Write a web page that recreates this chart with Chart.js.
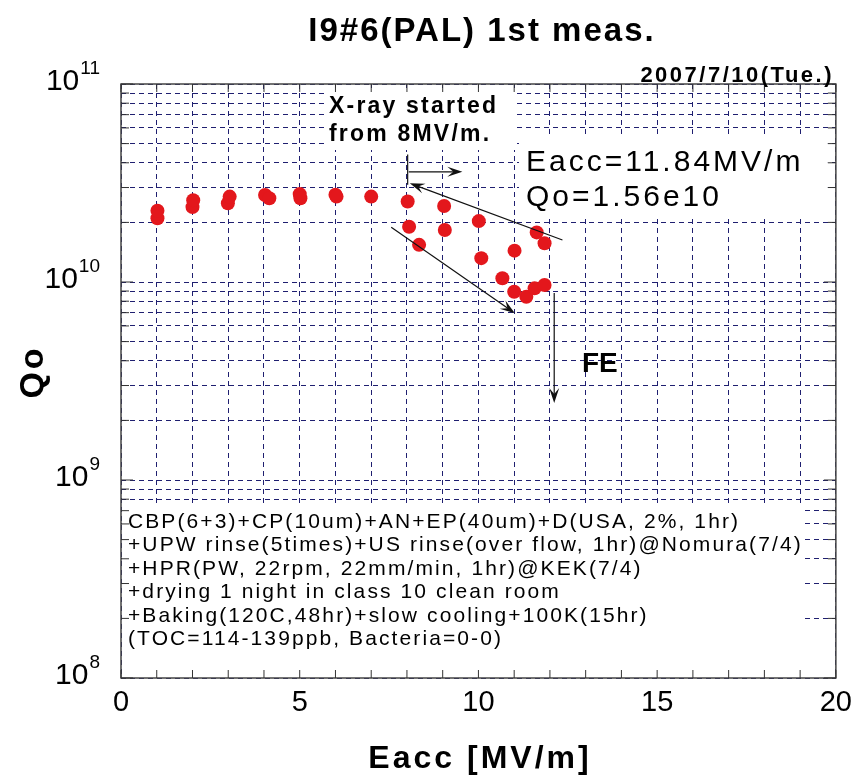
<!DOCTYPE html>
<html>
<head>
<meta charset="utf-8">
<script src="https://cdn.jsdelivr.net/npm/chart.js@4.4.0/dist/chart.umd.min.js"></script>
<style>
html, body { margin: 0; padding: 0; background: #fff; }
#wrap { width: 860px; height: 781px; }
</style>
</head>
<body>
<div id="wrap"><canvas id="qoChart" width="860" height="781"></canvas></div>
<script>
// measured points, Eacc [MV/m] and Qo
var eaccData = [1.02, 1.02, 2.0, 2.02, 2.99, 3.04, 4.03, 4.15, 5.0, 5.02, 6.0, 6.03, 7.0,
                8.02, 9.04, 10.01, 11.63, 11.85, 11.01, 10.08, 9.06, 8.06, 8.34,
                10.67, 11.0, 11.34, 11.57, 11.85];
var qoData = [2.10e10, 2.29e10, 2.39e10, 2.59e10, 2.50e10, 2.70e10, 2.75e10, 2.65e10, 2.78e10, 2.65e10, 2.76e10, 2.70e10, 2.70e10,
              2.55e10, 2.42e10, 2.03e10, 1.78e10, 1.57e10, 1.44e10, 1.32e10, 1.83e10, 1.90e10, 1.54e10,
              1.045e10, 8.93e9, 8.43e9, 9.29e9, 9.66e9];

var xLabelEvery = 5;
var yDecades = [1e8, 1e9, 1e10];
var yMajorTicks = [1e8, 1e9, 1e10, 1e11];
var yTickExp = ['8', '9', '10', '11'];

var recipeLines = [
    'CBP(6+3)+CP(10um)+AN+EP(40um)+D(USA, 2%, 1hr)',
    '+UPW rinse(5times)+US rinse(over flow, 1hr)@Nomura(7/4)',
    '+HPR(PW, 22rpm, 22mm/min, 1hr)@KEK(7/4)',
    '+drying 1 night in class 10 clean room',
    '+Baking(120C,48hr)+slow cooling+100K(15hr)',
    '(TOC=114-139ppb, Bacteria=0-0)'
];

// arrows in data space: [x1, y1, x2, y2], head at the second point
var arrowList = [
    [8.05, 3.6e10, 9.55, 3.6e10],
    [12.35, 1.63e10, 8.08, 3.15e10],
    [7.56, 1.89e10, 11.02, 6.95e9],
    [12.12, 8.8e9, 12.12, 2.45e9]
];
var markLine = [8.02, 4.4e10, 8.02, 3.1e10];

var points = eaccData.map(function (x, i) { return { x: x, y: qoData[i] }; });

var FONT = '"Liberation Sans", Arial, sans-serif';
var GRID = '#1f1f70';

function txt(ctx, s, x, y, font, align, spacing) {
    ctx.font = font;
    ctx.letterSpacing = (spacing || 0) + 'px';
    ctx.textAlign = align || 'left';
    ctx.textBaseline = 'alphabetic';
    ctx.fillStyle = '#000';
    ctx.fillText(s, x, y);
    ctx.letterSpacing = '0px';
}

function arrow(ctx, x1, y1, x2, y2) {
    var a = Math.atan2(y2 - y1, x2 - x1);
    var len = 15, w = 5;
    ctx.beginPath();
    ctx.moveTo(x1, y1);
    ctx.lineTo(x2 - Math.cos(a) * 6, y2 - Math.sin(a) * 6);
    ctx.stroke();
    ctx.beginPath();
    ctx.moveTo(x2, y2);
    ctx.lineTo(x2 - len * Math.cos(a) + w * Math.sin(a), y2 - len * Math.sin(a) - w * Math.cos(a));
    ctx.lineTo(x2 - 0.6 * len * Math.cos(a), y2 - 0.6 * len * Math.sin(a));
    ctx.lineTo(x2 - len * Math.cos(a) - w * Math.sin(a), y2 - len * Math.sin(a) + w * Math.cos(a));
    ctx.closePath();
    ctx.fill();
}

var decor = {
    id: 'decor',
    beforeDatasetsDraw: function (chart) {
        var ctx = chart.ctx, a = chart.chartArea;
        ctx.save();
        ctx.fillStyle = '#fff';
        ctx.fillRect(327, 88, 188, 62);      // X-ray note
        ctx.fillRect(519, 135, a.right - 8 - 519, 84);   // Eacc / Qo note
        ctx.fillRect(a.left + 1, 504, 803 - a.left, a.bottom - 505);  // recipe box
        ctx.restore();
    },
    afterDatasetsDraw: function (chart) {
        var ctx = chart.ctx, a = chart.chartArea;
        var xs = chart.scales.x, ys = chart.scales.y;
        ctx.save();

        // frame
        ctx.strokeStyle = '#444';
        ctx.lineWidth = 1.5;
        ctx.strokeRect(a.left, a.top, a.right - a.left, a.bottom - a.top);

        // inward ticks
        ctx.lineWidth = 1;
        ctx.strokeStyle = '#333';
        ctx.beginPath();
        xs.ticks.forEach(function (t) {
            var px = xs.getPixelForValue(t.value);
            ctx.moveTo(px, a.bottom); ctx.lineTo(px, a.bottom - 8);
            ctx.moveTo(px, a.top); ctx.lineTo(px, a.top + 8);
        });
        ys.ticks.forEach(function (t) {
            var py = ys.getPixelForValue(t.value);
            var l = yMajorTicks.indexOf(t.value) >= 0 ? 12 : 8;
            ctx.moveTo(a.left, py); ctx.lineTo(a.left + l, py);
            ctx.moveTo(a.right, py); ctx.lineTo(a.right - l, py);
        });
        ctx.stroke();

        // y tick labels 10^n
        yMajorTicks.forEach(function (v, i) {
            var py = ys.getPixelForValue(v);
            txt(ctx, yTickExp[i], 100, py - 10, '19px ' + FONT, 'right', 0);
            ctx.font = '19px ' + FONT;
            var w = ctx.measureText(yTickExp[i]).width;
            txt(ctx, '10', 100 - w - 1, py + 6, '30px ' + FONT, 'right', 0);
        });

        // arrows
        ctx.strokeStyle = '#111';
        ctx.fillStyle = '#111';
        ctx.lineWidth = 1.2;
        ctx.beginPath();
        ctx.moveTo(xs.getPixelForValue(markLine[0]), ys.getPixelForValue(markLine[1]));
        ctx.lineTo(xs.getPixelForValue(markLine[2]), ys.getPixelForValue(markLine[3]));
        ctx.stroke();
        arrowList.forEach(function (r) {
            arrow(ctx, xs.getPixelForValue(r[0]), ys.getPixelForValue(r[1]),
                  xs.getPixelForValue(r[2]), ys.getPixelForValue(r[3]));
        });

        // notes
        txt(ctx, 'X-ray started', 329, 113, 'bold 23px ' + FONT, 'left', 2.2);
        txt(ctx, 'from 8MV/m.', 329, 141, 'bold 23px ' + FONT, 'left', 2.2);
        txt(ctx, 'Eacc=11.84MV/m', 526, 171, '30px ' + FONT, 'left', 3);
        txt(ctx, 'Qo=1.56e10', 526, 206, '30px ' + FONT, 'left', 3);
        txt(ctx, 'FE', 582, 372, 'bold 28px ' + FONT, 'left', 0);

        recipeLines.forEach(function (s, i) {
            txt(ctx, s, 128, 528 + i * 23.4, '21px ' + FONT, 'left', 2.1);
        });

        // titles
        txt(ctx, 'I9#6(PAL) 1st meas.', 482, 41, 'bold 33px ' + FONT, 'center', 2);
        txt(ctx, '2007/7/10(Tue.)', 834, 82, 'bold 22px ' + FONT, 'right', 2.5);
        txt(ctx, 'Eacc [MV/m]', 480, 768, 'bold 32px ' + FONT, 'center', 3);

        ctx.save();
        ctx.translate(43, 372);
        ctx.rotate(-Math.PI / 2);
        txt(ctx, 'Qo', 0, 0, 'bold 34px ' + FONT, 'center', 3);
        ctx.restore();

        ctx.restore();
    }
};

var ctx = document.getElementById('qoChart').getContext('2d');
new Chart(ctx, {
    type: 'scatter',
    data: {
        datasets: [{
            label: 'Qo',
            data: points,
            backgroundColor: '#e3171c',
            borderColor: '#e3171c',
            borderWidth: 0,
            pointRadius: 7,
            pointHoverRadius: 7
        }]
    },
    options: {
        responsive: false,
        animation: false,
        devicePixelRatio: 1,
        layout: { padding: { top: 84, right: 20, bottom: 0, left: 0 } },
        plugins: { legend: { display: false }, tooltip: { enabled: false }, title: { display: false } },
        scales: {
            x: {
                type: 'linear',
                min: 0,
                max: 20,
                afterFit: function (s) { s.height = 103; },
                ticks: {
                    stepSize: 1,
                    autoSkip: false,
                    maxRotation: 0,
                    padding: 8,
                    color: '#000',
                    font: { family: FONT, size: 29 },
                    callback: function (v) { return v % xLabelEvery === 0 ? v : ''; }
                },
                grid: { color: GRID, lineWidth: 1, drawTicks: false },
                border: { display: false, dash: [5, 4] }
            },
            y: {
                type: 'logarithmic',
                min: 1e8,
                max: 1e11,
                afterFit: function (s) { s.width = 121; },
                afterBuildTicks: function (s) {
                    var t = [];
                    yDecades.forEach(function (d) {
                        for (var m = 1; m < 10; m++) t.push({ value: m * d });
                    });
                    t.push({ value: 1e11 });
                    s.ticks = t;
                },
                ticks: { display: false },
                grid: { color: GRID, lineWidth: 1, drawTicks: false },
                border: { display: false, dash: [5, 4] }
            }
        }
    },
    plugins: [decor]
});
</script>
</body>
</html>
